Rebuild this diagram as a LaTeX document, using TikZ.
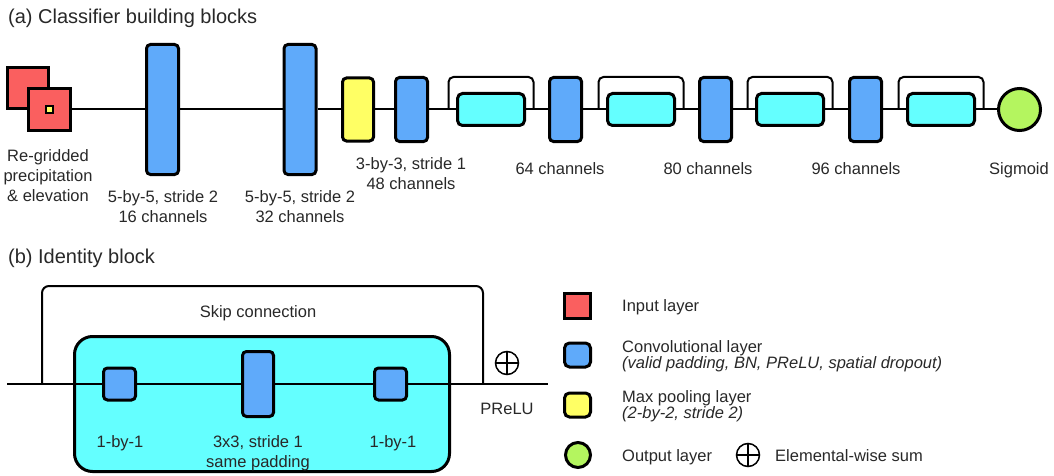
\documentclass[tikz,border=0pt]{standalone}
\usepackage{fontspec}
\setmainfont{Liberation Sans}
\definecolor{inred}{RGB}{250,95,95}
\definecolor{convblue}{RGB}{95,170,250}
\definecolor{poolyel}{RGB}{255,255,100}
\definecolor{idcyan}{RGB}{100,255,255}
\definecolor{outgreen}{RGB}{180,245,95}
\definecolor{txt}{RGB}{40,40,40}
\begin{document}
\begin{tikzpicture}[x=1pt,y=-1pt,
  lbl/.style={font=\fontsize{16.5}{20}\selectfont, text=txt, inner sep=0pt, align=center, anchor=north},
  leg/.style={font=\fontsize{16.5}{16.5}\selectfont, text=txt, inner sep=0pt, align=left, anchor=north west},
  ttl/.style={font=\fontsize{20}{24}\selectfont, text=txt, inner sep=0pt, anchor=north west},
  blk/.style={draw, line width=3pt, inner sep=0pt},
  convbox/.style={blk, fill=convblue, rounded corners=4pt, minimum width=32pt, minimum height=130pt},
  convsmall/.style={blk, fill=convblue, rounded corners=4pt, minimum width=32pt, minimum height=64pt},
  poolbox/.style={blk, fill=poolyel, rounded corners=4pt, minimum width=31pt, minimum height=63pt},
  idbox/.style={blk, fill=idcyan, rounded corners=5pt, minimum width=67pt, minimum height=32pt},
  inbox/.style={blk, fill=inred, minimum size=42pt},
  outcirc/.style={blk, circle, fill=outgreen, minimum size=42pt},
  conn/.style={line width=2pt},
  skip/.style={line width=2pt, rounded corners=5pt},
  osum/.style={circle, draw, line width=1.5pt, minimum size=23pt, inner sep=0pt,
    path picture={\draw[line width=1.5pt] (path picture bounding box.north) -- (path picture bounding box.south)
      (path picture bounding box.west) -- (path picture bounding box.east);}}
]
\useasboundingbox (0,0) rectangle (1054,476);

% ---------------- (a) ----------------
\node[ttl] (ta) at (8,9) {(a) Classifier building blocks};

\node[inbox, minimum size=41pt] (in1) at (28,88) {};
\node[inbox] (in2) at (49.5,109.5) {};
\node[draw, line width=1.2pt, fill=poolyel, minimum size=7pt, inner sep=0pt] (in3) at (49.5,109.5) {};

\node[convbox] (c1) at (162.5,109.5) {};
\node[convbox] (c2) at (300,109.5) {};
\node[poolbox] (pool) at (358,109.5) {};
\node[convsmall] (c3) at (411.5,109.5) {};
\node[idbox] (id1) at (491,109.5) {};
\node[convsmall] (c4) at (565.5,109.5) {};
\node[idbox] (id2) at (641,109.5) {};
\node[convsmall] (c5) at (715.5,109.5) {};
\node[idbox] (id3) at (790,109.5) {};
\node[convsmall] (c6) at (865.5,109.5) {};
\node[idbox] (id4) at (941,109.5) {};
\node[outcirc] (out) at (1019.5,109.5) {};

\draw[conn] (in2) -- (c1) -- (c2) -- (pool) -- (c3) -- (id1) -- (c4) -- (id2) -- (c5) -- (id3) -- (c6) -- (id4) -- (out);

\coordinate (s1a) at (448.5,109.5); \coordinate (s1b) at (533.5,109.5);
\coordinate (s2a) at (598.5,109.5); \coordinate (s2b) at (683.5,109.5);
\coordinate (s3a) at (747.5,109.5); \coordinate (s3b) at (832.5,109.5);
\coordinate (s4a) at (898.5,109.5); \coordinate (s4b) at (983.5,109.5);
\draw[skip] (s1a) -- ++(0,-32.5) -| (s1b);
\draw[skip] (s2a) -- ++(0,-32.5) -| (s2b);
\draw[skip] (s3a) -- ++(0,-32.5) -| (s3b);
\draw[skip] (s4a) -- ++(0,-32.5) -| (s4b);

\node[lbl] (l0) at (48,149) {Re-gridded\\precipitation\\\& elevation};
\node[lbl] (l1) at (163,190) {5-by-5, stride 2\\16 channels};
\node[lbl] (l2) at (300,190) {5-by-5, stride 2\\32 channels};
\node[lbl] (l3) at (411,157) {3-by-3, stride 1\\48 channels};
\node[lbl] (l4) at (560,162) {64 channels};
\node[lbl] (l5) at (708,162) {80 channels};
\node[lbl] (l6) at (856,162) {96 channels};
\node[lbl] (l7) at (1019,162) {Sigmoid};

% ---------------- (b) ----------------
\node[ttl] (tb) at (8,249) {(b) Identity block};

\node[blk, fill=idcyan, rounded corners=18pt, minimum width=375pt, minimum height=135pt] (big) at (262,404) {};
\node[blk, fill=convblue, rounded corners=4pt, minimum width=32pt, minimum height=32pt] (b1) at (119.5,384) {};
\node[blk, fill=convblue, rounded corners=4pt, minimum width=31pt, minimum height=65pt] (b2) at (258,384) {};
\node[blk, fill=convblue, rounded corners=4pt, minimum width=32pt, minimum height=32pt] (b3) at (390.5,384) {};

\coordinate (bs) at (7,384);
\coordinate (be) at (548,384);
\coordinate (kl) at (42,384);
\coordinate (kr) at (483,384);
\draw[conn] (bs) -- (b1) -- (b2) -- (b3) -- (be);
\draw[skip, rounded corners=7pt] (kl) -- ++(0,-98) -| (kr);

\node[osum] (sum) at (507,363) {};
\node[lbl] (prelu) at (507,403) {PReLU};
\node[lbl] (skl) at (258,305) {Skip connection};
\node[lbl] (lb1) at (120,435) {1-by-1};
\node[lbl] (lb2) at (258,435) {3x3, stride 1\\same padding};
\node[lbl] (lb3) at (393,435) {1-by-1};

% ---------------- legend ----------------
\node[blk, fill=inred, minimum width=26pt, minimum height=25pt] (g1) at (577.5,306) {};
\node[blk, fill=convblue, rounded corners=5pt, minimum width=26pt, minimum height=24pt] (g2) at (577.5,355) {};
\node[blk, fill=poolyel, rounded corners=5pt, minimum width=26pt, minimum height=24pt] (g3) at (577.5,405) {};
\node[blk, circle, fill=outgreen, minimum size=25pt] (g4) at (578,455) {};
\node[osum] (g5) at (748,455) {};

\node[leg] (t1) at (622,299) {Input layer};
\node[leg] (t2) at (622,340) {Convolutional layer\\\textit{(valid padding, BN, PReLU, spatial dropout)}};
\node[leg] (t3) at (622,390) {Max pooling layer\\\textit{(2-by-2, stride 2)}};
\node[leg] (t4) at (622,449) {Output layer};
\node[leg] (t5) at (775,449) {Elemental-wise sum};
\end{tikzpicture}
\end{document}
